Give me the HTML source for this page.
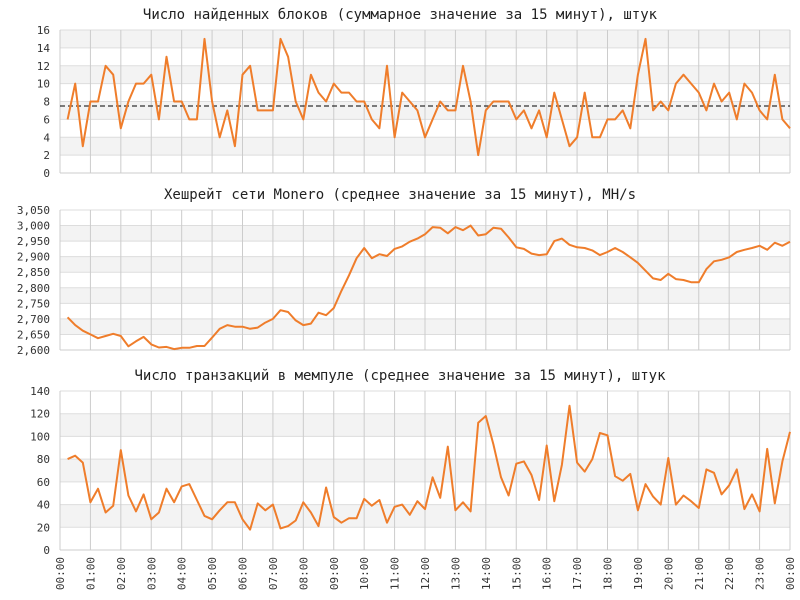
<!DOCTYPE html>
<html><head><meta charset="utf-8"><style>
body{margin:0;background:#fff}
svg{display:block;font-family:"DejaVu Sans Mono","Liberation Mono",monospace}
</style></head><body>
<svg id="c" width="800" height="600" xmlns="http://www.w3.org/2000/svg"></svg>
<script>
const blocks=[6,10,3,8,8,12,11,5,8,10,10,11,6,13,8,8,6,6,15,8,4,7,3,11,12,7,7,7,15,13,8,6,11,9,8,10,9,9,8,8,6,5,12,4,9,8,7,4,6,8,7,7,12,8,2,7,8,8,8,6,7,5,7,4,9,6,3,4,9,4,4,6,6,7,5,11,15,7,8,7,10,11,10,9,7,10,8,9,6,10,9,7,6,11,6,5];
const hashrate=[2705,2680,2662,2650,2638,2645,2652,2645,2612,2628,2642,2618,2608,2610,2603,2607,2607,2613,2613,2640,2668,2680,2675,2675,2668,2672,2688,2700,2728,2722,2695,2680,2685,2720,2712,2735,2790,2840,2895,2928,2895,2908,2902,2925,2933,2948,2958,2972,2995,2993,2975,2995,2985,3000,2968,2972,2993,2990,2962,2930,2925,2910,2905,2908,2950,2958,2938,2930,2928,2920,2905,2915,2928,2915,2898,2880,2855,2830,2825,2845,2828,2825,2818,2818,2860,2885,2890,2898,2915,2922,2928,2935,2922,2945,2935,2948];
const mempool=[80,83,77,42,54,33,39,88,48,34,49,27,33,54,42,56,58,44,30,27,35,42,42,27,18,41,35,40,19,21,26,42,33,21,55,29,24,28,28,45,39,44,24,38,40,31,43,36,64,46,91,35,42,34,112,118,93,64,48,76,78,66,44,92,43,75,127,77,69,80,103,101,65,61,67,35,58,47,40,81,40,48,43,37,71,68,49,57,71,36,49,34,89,41,78,104];
const blocksMean=7.5;
const hourLabels=["00:00","01:00","02:00","03:00","04:00","05:00","06:00","07:00","08:00","09:00","10:00","11:00","12:00","13:00","14:00","15:00","16:00","17:00","18:00","19:00","20:00","21:00","22:00","23:00","00:00"];
const titles=["Число найденных блоков (суммарное значение за 15 минут), штук","Хешрейт сети Monero (среднее значение за 15 минут), MH/s","Число транзакций в мемпуле (среднее значение за 15 минут), штук"];
const svg=document.getElementById('c');const NS="http://www.w3.org/2000/svg";
function mk(t,a,p){const e=document.createElementNS(NS,t);for(const k in a)e.setAttribute(k,a[k]);(p||svg).appendChild(e);return e;}
const X0=60,X1=790;
const xIdx=i=>X0+(i+1)*(X1-X0)/96;
const panels=[
 {data:blocks,min:0,max:16,step:2,top:30,bot:173,fmt:v=>String(v),name:'blocks-chart'},
 {data:hashrate,min:2600,max:3050,step:50,top:210,bot:350,fmt:v=>v.toLocaleString('en-US'),name:'hashrate-chart'},
 {data:mempool,min:0,max:140,step:20,top:391,bot:550,fmt:v=>String(v),name:'mempool-chart'}];
panels.forEach((p,pi)=>{
 const g=mk('g',{});
 
 
 const y=v=>p.bot-(v-p.min)/(p.max-p.min)*(p.bot-p.top);
 const n=Math.round((p.max-p.min)/p.step);
 for(let k=0;k<n;k++){const v0=p.min+k*p.step;
  if(k%2===1){const r=mk('rect',{x:X0,y:y(v0+p.step),width:X1-X0,height:y(v0)-y(v0+p.step),fill:'#f3f3f3'},g);}}
 for(let k=0;k<=n;k++){const v=p.min+k*p.step;
  mk('line',{x1:X0,x2:X1,y1:y(v),y2:y(v),stroke:'#ddd','stroke-width':1},g);
  const t=mk('text',{x:50,y:y(v)+4,'text-anchor':'end','font-size':11,fill:'#333'},g);t.textContent=p.fmt(v);
  }
 for(let h=0;h<=24;h++){const x=X0+h*(X1-X0)/24;mk('line',{x1:x,x2:x,y1:p.top,y2:p.bot,stroke:'#ccc','stroke-width':1},g);}
 mk('line',{x1:X0,x2:X1,y1:p.bot,y2:p.bot,stroke:'#ccc'},g);
 const tt=mk('text',{x:400,y:p.top-11,'text-anchor':'middle','font-size':14,fill:'#222'},g);tt.textContent=titles[pi];
 
 if(pi===0){const d=mk('line',{x1:X0,x2:X1,y1:y(blocksMean),y2:y(blocksMean),stroke:'#000','stroke-dasharray':'5,3'},g);}
 const pts=p.data.map((v,i)=>xIdx(i).toFixed(1)+','+y(v).toFixed(1)).join(' ');
 const pl=mk('polyline',{points:pts,fill:'none',stroke:'#ef7d2b','stroke-width':2,'stroke-linejoin':'round'},g);
 
});
hourLabels.forEach((l,h)=>{const x=X0+h*(X1-X0)/24;
 const t=mk('text',{x:0,y:0,transform:`translate(${x+4},557) rotate(-90)`,'text-anchor':'end','font-size':11,fill:'#333'});t.textContent=l;
 });
</script>
</body></html>
